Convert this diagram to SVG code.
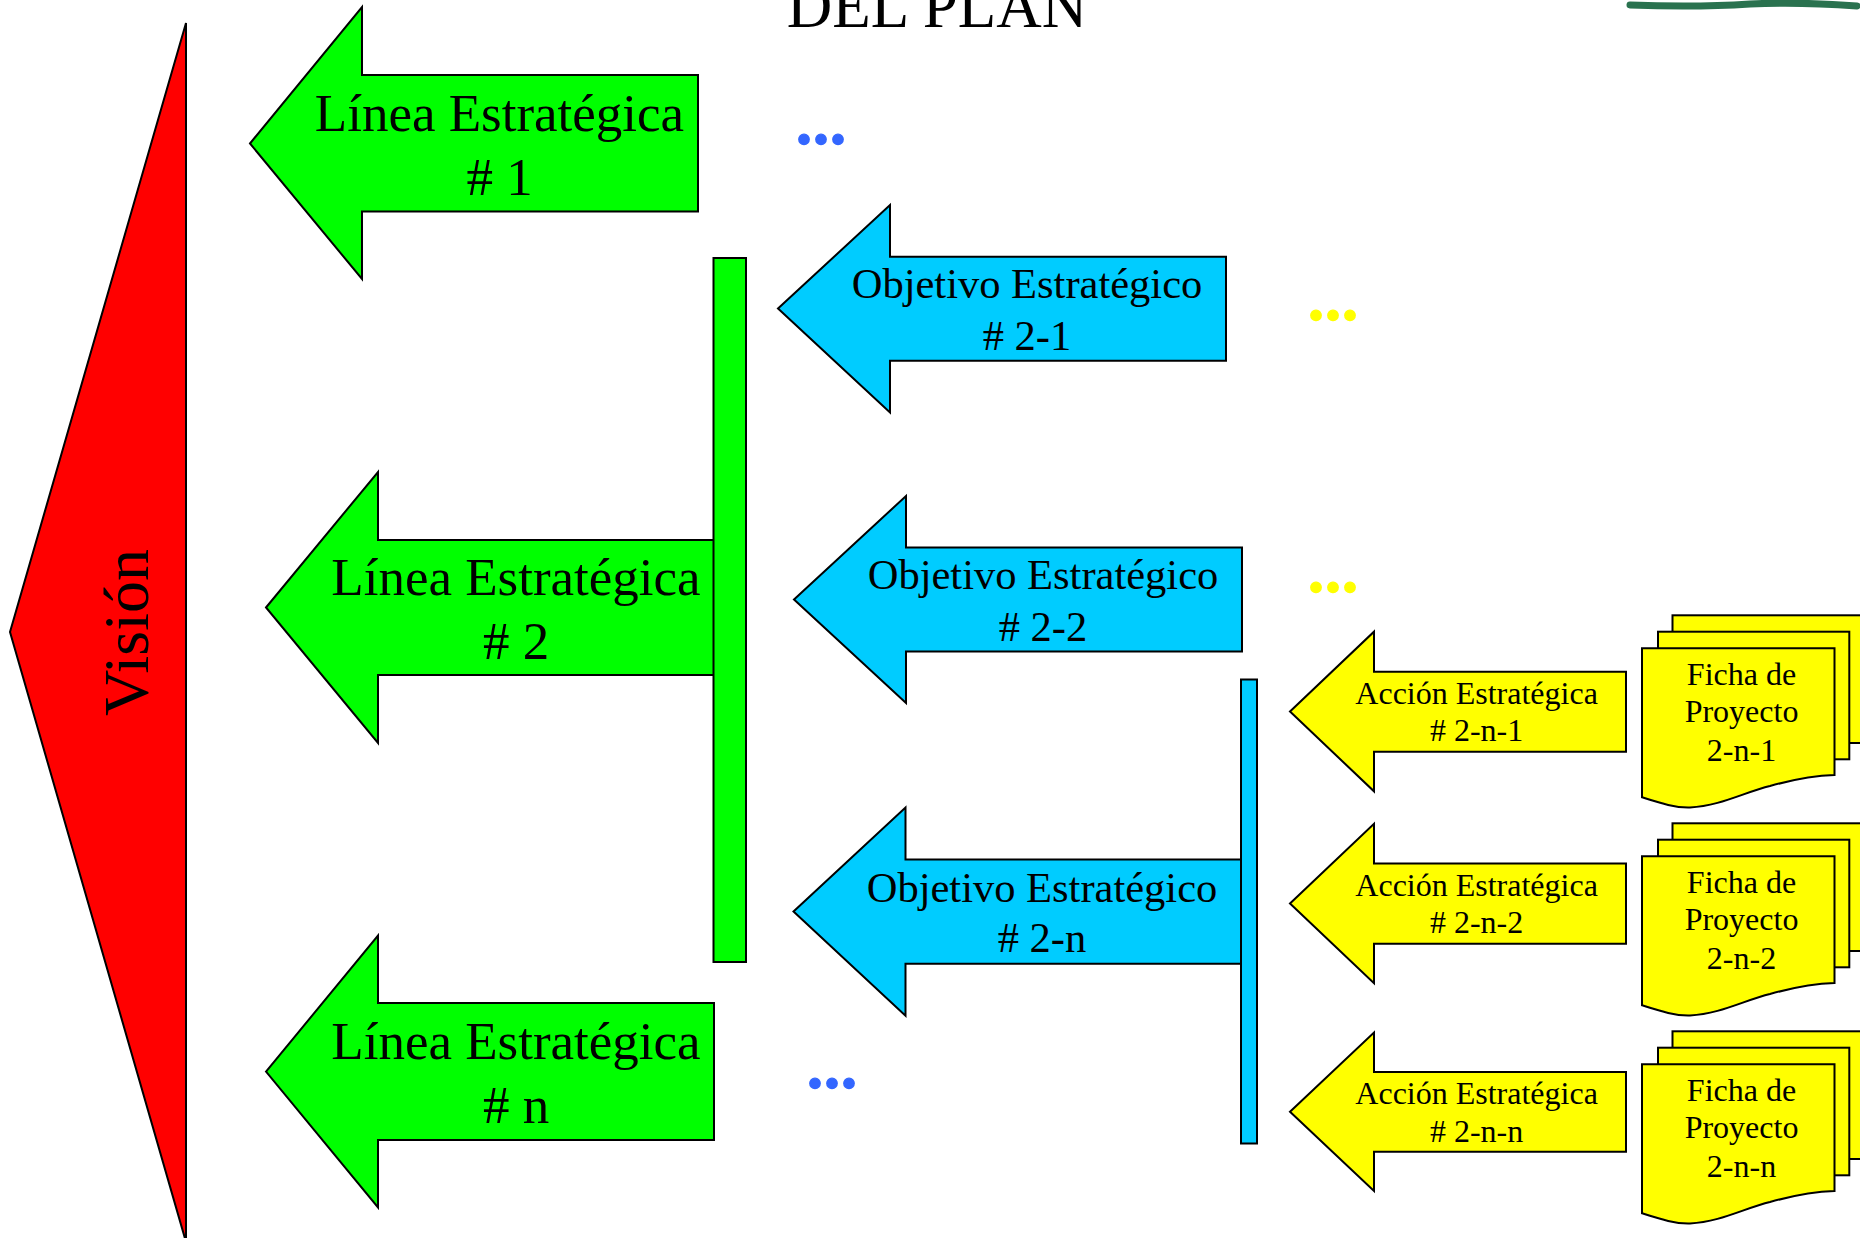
<svg xmlns="http://www.w3.org/2000/svg" width="1860" height="1238" viewBox="0 0 1860 1238">
<style>
.sh{stroke:#000;stroke-width:2;stroke-linejoin:miter}
.g{fill:#00ff00}
.b{fill:#00ccff}
.y{fill:#ffff00}
.r{fill:#ff0000}
.t{font-family:"Liberation Serif","Times New Roman",serif;fill:#000;text-anchor:middle}
.tl{font-size:53px}
.to{font-size:42.5px}
.ta{font-size:32px}
.dots{font-family:"Liberation Serif","Times New Roman",serif;font-weight:bold;font-size:64px;stroke-width:1.4;stroke-linejoin:round;letter-spacing:1px}
.bd{fill:#3366ff;stroke:#3366ff}
.yd{fill:#ffff00;stroke:#ffff00}
</style>
<defs>
<g id="multidoc">
<rect x="1672.5" y="615.3" width="210" height="127.7" class="sh y"/>
<rect x="1658" y="631.7" width="191.3" height="127.6" class="sh y"/>
<path d="M1642,648.3 H1834.5 V775 C1815,775.5 1795,779 1770,786 C1745,792 1720,806 1690,807.5 C1675,808 1660,803 1642,797.3 Z" class="sh y"/>
</g>
</defs>
<rect width="1860" height="1238" fill="#fff"/>
<text class="t" x="937" y="27" font-size="63">DEL PLAN</text>
<path d="M1630,5 C1680,7 1720,6 1750,4 C1790,2 1830,4 1857,6" fill="none" stroke="#1f6a46" stroke-width="7" stroke-linecap="round" opacity="0.95"/>
<g id="vision">
<polygon points="186,23 10,632 186,1242" class="sh r"/>
<text class="t" font-size="64" transform="translate(148,632.5) rotate(-90)">Visión</text>
</g>
<g id="linea1">
<polygon points="250,143.5 362,7 362,75 698,75 698,211.5 362,211.5 362,279" class="sh g"/>
<text class="t tl" x="499.5" y="130.5">Línea Estratégica</text>
<text class="t tl" x="499.5" y="194.5"># 1</text>
</g>
<g id="linea2">
<polygon points="266,607.5 378,472 378,540 714,540 714,675 378,675 378,743" class="sh g"/>
<text class="t tl" x="516" y="594.5">Línea Estratégica</text>
<text class="t tl" x="516" y="658.5"># 2</text>
</g>
<g id="lineaN">
<polygon points="266,1071.6 378,935.6 378,1003 714,1003 714,1140 378,1140 378,1207.4" class="sh g"/>
<text class="t tl" x="516" y="1059">Línea Estratégica</text>
<text class="t tl" x="516" y="1123"># n</text>
</g>
<g id="obj21">
<polygon points="778,308.6 890,205 890,256.8 1226,256.8 1226,360.7 890,360.7 890,412.5" class="sh b"/>
<text class="t to" x="1027" y="298">Objetivo Estratégico</text>
<text class="t to" x="1027" y="349.6"># 2-1</text>
</g>
<g id="obj22">
<polygon points="794,599.5 906,496 906,547.5 1242,547.5 1242,651.4 906,651.4 906,703" class="sh b"/>
<text class="t to" x="1043" y="588.7">Objetivo Estratégico</text>
<text class="t to" x="1043" y="640.5"># 2-2</text>
</g>
<g id="obj2n">
<polygon points="793.5,911.6 905.5,807.5 905.5,859.5 1241,859.5 1241,963.7 905.5,963.7 905.5,1015.7" class="sh b"/>
<text class="t to" x="1042" y="902">Objetivo Estratégico</text>
<text class="t to" x="1042" y="952.3"># 2-n</text>
</g>
<g id="accion1">
<polygon points="1290,711.5 1374,631.7 1374,671.7 1626,671.7 1626,751.7 1374,751.7 1374,791.3" class="sh y"/>
<text class="t ta" x="1476.6" y="703.7">Acción Estratégica</text>
<text class="t ta" x="1476.6" y="741.2"># 2-n-1</text>
</g>
<g id="accion2">
<polygon points="1290,903.5 1374,823.8 1374,863.6 1626,863.6 1626,943.8 1374,943.8 1374,983.2" class="sh y"/>
<text class="t ta" x="1476.6" y="895.6">Acción Estratégica</text>
<text class="t ta" x="1476.6" y="933.1"># 2-n-2</text>
</g>
<g id="accion3">
<polygon points="1290,1111.8 1374,1032.5 1374,1072 1626,1072 1626,1151.7 1374,1151.7 1374,1191" class="sh y"/>
<text class="t ta" x="1476.6" y="1104">Acción Estratégica</text>
<text class="t ta" x="1476.6" y="1141.5"># 2-n-n</text>
</g>
<g id="ficha1">
<use href="#multidoc"/>
<text class="t ta" x="1741.5" y="685.4">Ficha de</text>
<text class="t ta" x="1741.5" y="722">Proyecto</text>
<text class="t ta" x="1741.5" y="760.7">2-n-1</text>
</g>
<g id="ficha2">
<use href="#multidoc" transform="translate(0,208)"/>
<text class="t ta" x="1741.5" y="893.4">Ficha de</text>
<text class="t ta" x="1741.5" y="930">Proyecto</text>
<text class="t ta" x="1741.5" y="968.7">2-n-2</text>
</g>
<g id="ficha3">
<use href="#multidoc" transform="translate(0,416)"/>
<text class="t ta" x="1741.5" y="1101.4">Ficha de</text>
<text class="t ta" x="1741.5" y="1138">Proyecto</text>
<text class="t ta" x="1741.5" y="1176.7">2-n-n</text>
</g>
<g id="ellipses">
<text class="dots bd" x="796" y="143.8">...</text>
<text class="dots yd" x="1308" y="319.8">...</text>
<text class="dots yd" x="1308" y="591.5">...</text>
<text class="dots bd" x="807" y="1087.5">...</text>
</g>
<g id="connectors">
<rect x="713.5" y="258" width="32.5" height="704" class="sh g"/>
<rect x="1241" y="679.5" width="16" height="464" class="sh b"/>
</g>
</svg>
